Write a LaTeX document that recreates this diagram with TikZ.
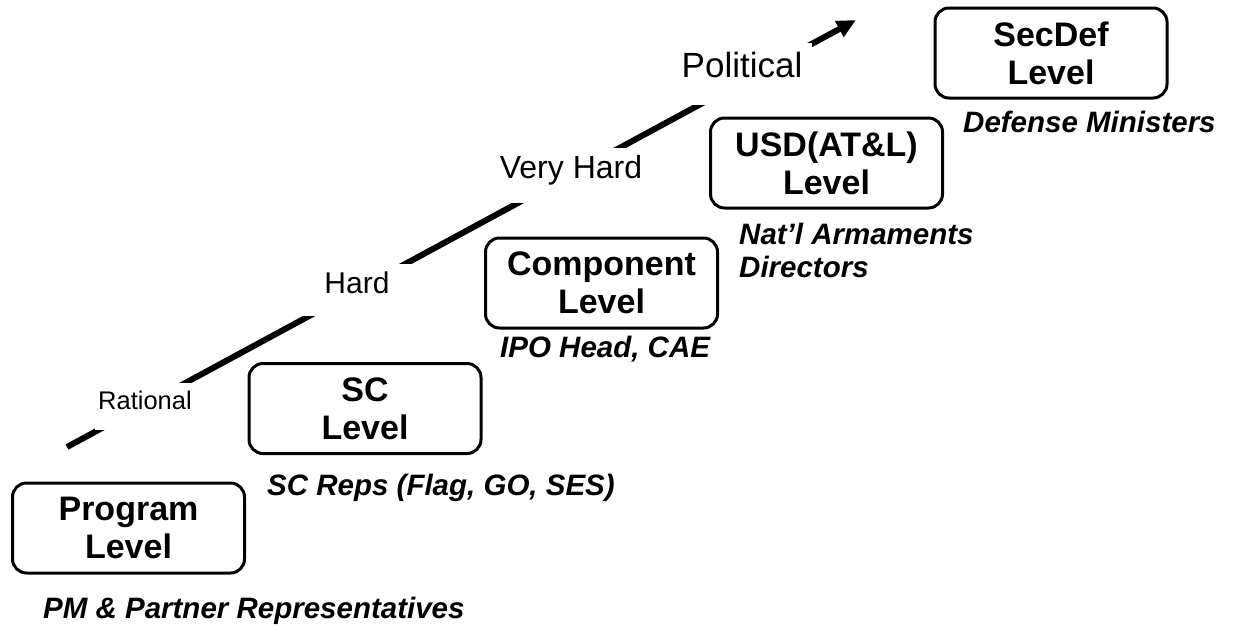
\documentclass[tikz,border=0pt]{standalone}
\usepackage{fontspec}
\setmainfont{Liberation Sans}
\usepackage{xcolor}
\usetikzlibrary{arrows.meta,positioning}

\tikzset{
  levelbox/.style={draw,line width=3pt,rounded corners=14pt,minimum width=232pt,
    minimum height=90pt,align=center,inner sep=0pt,
    font=\fontsize{34}{38}\selectfont\bfseries},
  who/.style={anchor=base west,inner sep=0pt,font=\fontsize{29.5}{33}\selectfont\bfseries\itshape,align=left},
  stage/.style={fill=white,inner sep=0pt,text height=0.716em,text depth=0pt},
}

\begin{document}
\begin{tikzpicture}[x=1pt,y=-1pt]
  \useasboundingbox (0,0) rectangle (1234,627);
  % rising line, broken by the stage labels
  \coordinate (rise0) at (67,447);
  \coordinate (rise1) at (856,20);
  \draw[line width=6pt,-{Triangle[length=19pt,width=17pt]}] (rise0) -- (rise1);
  \node[stage,minimum height=47pt,minimum width=100pt,font=\fontsize{25.5}{30}\selectfont] (rational) at (145,406) {Rational};
  \node[stage,minimum height=52pt,minimum width=110pt,font=\fontsize{30}{36}\selectfont] (hard) at (357,290) {Hard};
  \node[stage,minimum height=55pt,minimum width=160pt,font=\fontsize{32}{38}\selectfont] (vhard) at (571,175) {Very Hard};
  \node[stage,minimum height=62pt,minimum width=140pt,font=\fontsize{35}{42}\selectfont] (political) at (742,74) {Political};
  % levels
  \node[levelbox] (program) at (128.5,528) {Program\\Level};
  \node[levelbox] (sc) at (365,408.5) {SC\\Level};
  \node[levelbox] (component) at (601.5,283) {Component\\Level};
  \node[levelbox] (usd) at (826.5,163) {USD(AT\&L)\\Level};
  \node[levelbox] (secdef) at (1051,53) {SecDef\\Level};
  % who sits at each level
  \node[who] (pm) at (43,618) {PM \& Partner Representatives};
  \node[who] (screps) at (267,495) {SC Reps (Flag, GO, SES)};
  \node[who] (ipo) at (500,357) {IPO Head, CAE};
  \node[who] (nad) at (739,244) {Nat’l Armaments};
  \node[who] (nad2) at (739,277) {Directors};
  \node[who] (mod) at (963,132) {Defense Ministers};
\end{tikzpicture}
\end{document}
